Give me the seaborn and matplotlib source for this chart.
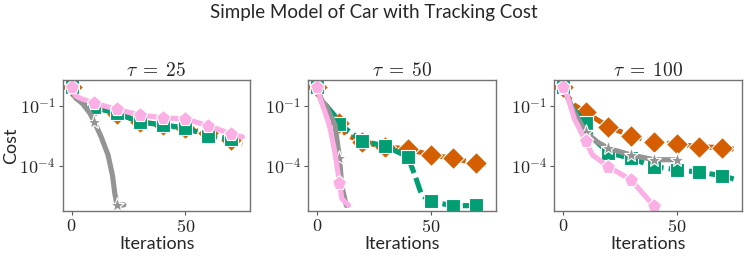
import matplotlib
matplotlib.use('Agg')
import matplotlib.pyplot as plt
import seaborn as sns
import numpy as np
import pandas as pd

# values, cost stored as log10(cost)
taus = [25, 50, 100]

# tau = 25
it_25_ddp = [0, 1, 2, 4, 10, 20, 30, 40, 50, 60, 70, 75]
lc_25_ddp = [-0.05, -0.4, -0.6, -0.75, -1.05, -1.38, -1.78, -1.97, -2.12, -2.38, -2.72, -2.92]
it_25_ilqr = [0, 1, 2, 4, 10, 20, 30, 40, 50, 60, 70, 75]
lc_25_ilqr = [-0.05, -0.4, -0.6, -0.75, -1.07, -1.37, -1.8, -1.95, -2.1, -2.5, -2.65, -2.75]
it_25_gn = [0, 1, 2, 5, 8, 10, 13, 16, 18, 19, 20, 23]
lc_25_gn = [-0.05, -0.4, -0.6, -0.9, -1.35, -1.79, -2.55, -3.45, -4.5, -5.4, -6.0, -5.97]
it_25_nt = [0, 1, 2, 4, 10, 20, 30, 40, 50, 60, 70, 75]
lc_25_nt = [-0.05, -0.35, -0.5, -0.62, -0.86, -1.17, -1.45, -1.59, -1.65, -1.99, -2.4, -2.55]

# tau = 50
it_50_ddp = [0, 2, 5, 8, 10, 13, 20, 30, 40, 50, 60, 70, 75]
lc_50_ddp = [-0.03, -0.7, -1.1, -1.55, -1.85, -2.45, -2.8, -3.05, -3.16, -3.46, -3.63, -3.88, -3.93]
it_50_ilqr = [0, 2, 5, 8, 10, 20, 30, 40, 43, 46, 50, 60, 70]
lc_50_ilqr = [-0.03, -0.7, -1.1, -1.5, -1.92, -2.76, -3.01, -3.55, -4.45, -5.45, -5.8, -6.02, -6.0]
it_50_gn = [0, 2, 4, 8, 10, 11, 13]
lc_50_gn = [-0.03, -0.7, -0.95, -1.95, -3.6, -5.0, -6.0]
it_50_nt = [0, 2, 5, 6, 8, 10, 11, 14]
lc_50_nt = [-0.03, -0.78, -1.75, -2.2, -3.35, -4.85, -5.65, -6.0]

# tau = 100
it_100_ddp = [0, 2, 5, 10, 20, 30, 40, 50, 60, 70, 75]
lc_100_ddp = [-0.03, -0.5, -0.95, -1.32, -2.04, -2.5, -2.79, -2.93, -3.04, -3.1, -3.16]
it_100_ilqr = [0, 2, 5, 10, 13, 20, 30, 40, 50, 60, 70, 75]
lc_100_ilqr = [-0.03, -0.55, -1.2, -1.87, -2.6, -3.35, -3.63, -4.05, -4.2, -4.33, -4.5, -4.67]
it_100_gn = [0, 2, 5, 10, 15, 20, 30, 40, 50]
lc_100_gn = [-0.03, -0.5, -1.3, -2.29, -2.8, -3.13, -3.46, -3.7, -3.7]
it_100_nt = [0, 2, 5, 10, 13, 20, 30, 40]
lc_100_nt = [-0.03, -0.5, -1.62, -2.76, -3.46, -4.05, -4.72, -6.03]

panels = {
    25: [(it_25_ddp, lc_25_ddp), (it_25_ilqr, lc_25_ilqr), (it_25_gn, lc_25_gn), (it_25_nt, lc_25_nt)],
    50: [(it_50_ddp, lc_50_ddp), (it_50_ilqr, lc_50_ilqr), (it_50_gn, lc_50_gn), (it_50_nt, lc_50_nt)],
    100: [(it_100_ddp, lc_100_ddp), (it_100_ilqr, lc_100_ilqr), (it_100_gn, lc_100_gn), (it_100_nt, lc_100_nt)],
}

pal = sns.color_palette('colorblind')
styles = [
    dict(color=pal[3], marker='D', ms=11, linestyle=(0, (3, 1))),
    dict(color=pal[2], marker='s', ms=9.5, linestyle=(0, (3, 1))),
    dict(color=pal[7], marker='*', ms=11, linestyle='-'),
    dict(color=pal[6], marker='p', ms=11, linestyle='-'),
]

sns.set_style('white')
plt.rcParams['font.family'] = ['Lato', 'DejaVu Sans']
plt.rcParams['mathtext.fontset'] = 'cm'

fig = plt.figure(figsize=(7.48, 2.58), dpi=100)
lefts = [0.0842, 0.412, 0.741]

for k, tau in enumerate(taus):
    ax = fig.add_axes([lefts[k], 0.182, 0.2505, 0.508])
    for (its, lcs), st in zip(panels[tau], styles):
        df = pd.DataFrame({'it': its, 'cost': 10.0 ** np.array(lcs)})
        mask = [i % 10 == 0 for i in its]
        sns.lineplot(data=df, x='it', y='cost', ax=ax, color=st['color'], lw=3.7,
                     linestyle=st['linestyle'], marker=st['marker'], markersize=st['ms'],
                     markevery=mask, markeredgecolor='white', markeredgewidth=0.8)
    ax.set_yscale('log')
    ax.set_ylim(10 ** -6.28, 10 ** 0.31)
    ax.set_xlim(-3.75, 78.5)
    ax.set_xticks([0, 50])
    ax.set_xticklabels([r'$0$', r'$50$'])
    ax.set_yticks([1e-1, 1e-4])
    ax.set_yticklabels([r'$10^{-1}$', r'$10^{-4}$'])
    ax.minorticks_off()
    ax.tick_params(labelsize=13, length=3, color='0.35', pad=2, left=True, bottom=True)
    for s in ax.spines.values():
        s.set_color('0.45')
        s.set_linewidth(1.0)
    ax.set_title(r'$\tau\;=\;%d$' % tau, fontsize=14, pad=3)
    ax.set_xlabel('Iterations', fontsize=13, labelpad=1)
    if k == 0:
        ax.set_ylabel('Cost', fontsize=13)
        ax.yaxis.set_label_coords(-0.232, 0.5)
    else:
        ax.set_ylabel('')

fig.suptitle('Simple Model of Car with Tracking Cost', fontsize=13.5, y=0.985)
plt.savefig('out.png', dpi=100)
